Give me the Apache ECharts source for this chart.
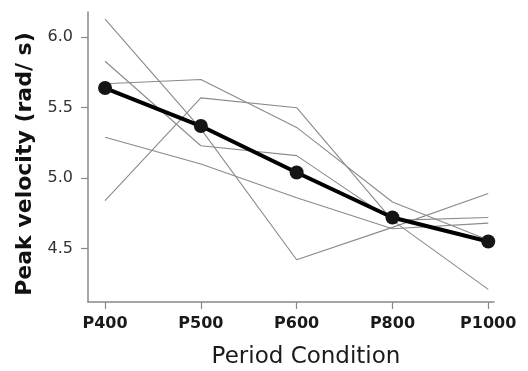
<!DOCTYPE html>
<html>
<head>
<meta charset="utf-8">
<script src="https://cdn.jsdelivr.net/npm/echarts@6/dist/echarts.min.js"></script>
<style>html,body{margin:0;padding:0;background:#fff}#c{width:528px;height:371px}</style>
</head>
<body>
<div id="c"></div>
<script>
var categories = ['P400', 'P500', 'P600', 'P800', 'P1000'];
var yTicks = [4.5, 5.0, 5.5, 6.0];
var subj1 = [6.13, 5.35, 4.42, 4.65, 4.89];
var subj2 = [5.83, 5.23, 5.16, 4.70, 4.72];
var subj3 = [5.67, 5.70, 5.36, 4.83, 4.56];
var subj4 = [5.29, 5.10, 4.86, 4.64, 4.68];
var subj5 = [4.84, 5.57, 5.50, 4.70, 4.21];
var meanVals = [5.64, 5.37, 5.04, 4.72, 4.55];

function pts(arr) { return arr.map(function (v, i) { return [i, v]; }); }
var subjects = [subj1, subj2, subj3, subj4, subj5];
var series = subjects.map(function (s) {
  return { type: 'line', data: pts(s), symbol: 'none', lineStyle: { color: '#8a8a8a', width: 1.1 }, z: 2, silent: true };
});
series.push({
  type: 'line', data: pts(meanVals), symbol: 'circle', symbolSize: 14,
  itemStyle: { color: '#151515' }, lineStyle: { color: '#000', width: 4 }, z: 5
});

var FONT = 'DejaVu Sans, Liberation Sans, sans-serif';
var chart = echarts.init(document.getElementById('c'), null, { renderer: 'canvas' });
chart.setOption({
  animation: false,
  backgroundColor: '#fff',
  grid: { left: 88, right: 34, top: 12, bottom: 69, outerBoundsMode: 'none', containLabel: false },
  xAxis: {
    type: 'value', min: -0.178, max: 4.06,
    axisLine: { onZero: false, lineStyle: { color: '#888', width: 1.5 } },
    axisTick: { show: true, length: 7, customValues: [0, 1, 2, 3, 4], lineStyle: { color: '#888', width: 1.2 } },
    axisLabel: {
      customValues: [0, 1, 2, 3, 4], margin: 14,
      formatter: function (v) { return categories[Math.round(v)]; },
      fontFamily: FONT, fontWeight: 'bold', fontSize: 16, color: '#1a1a1a'
    },
    splitLine: { show: false },
    name: 'Period Condition', nameLocation: 'middle', nameGap: 44,
    nameTextStyle: { fontFamily: FONT, fontSize: 23, color: '#1a1a1a', padding: [0, 0, 0, 30] }
  },
  yAxis: {
    type: 'value', min: 4.12, max: 6.18,
    axisLine: { show: true, onZero: false, lineStyle: { color: '#888', width: 1.5 } },
    axisTick: { show: true, length: 7, customValues: yTicks, lineStyle: { color: '#888', width: 1.2 } },
    axisLabel: {
      customValues: yTicks, margin: 15,
      formatter: function (v) { return v.toFixed(1); },
      fontFamily: FONT, fontSize: 16, color: '#333'
    },
    splitLine: { show: false },
    name: 'Peak velocity (rad/ s)', nameLocation: 'middle', nameGap: 51,
    nameTextStyle: { fontFamily: FONT, fontWeight: 'bold', fontSize: 22, color: '#111', padding: [0, 14, 0, 0] }
  },
  series: series
});
</script>
</body>
</html>
